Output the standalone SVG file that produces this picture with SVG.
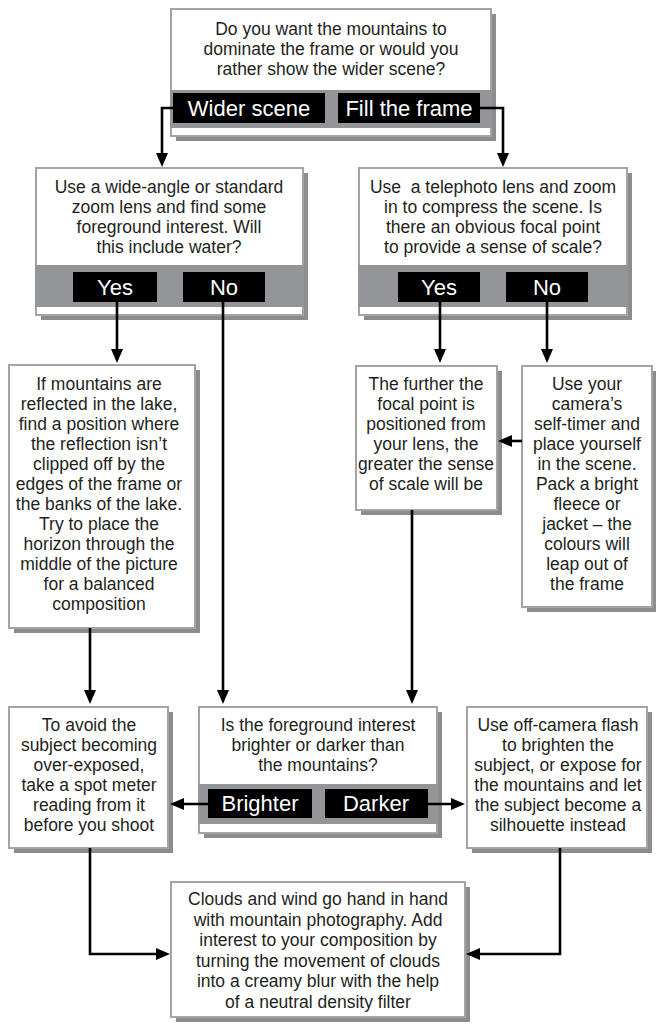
<svg xmlns="http://www.w3.org/2000/svg" width="656" height="1025" viewBox="0 0 656 1025">
  <defs>
    <style>
      .shadow { fill: #8c8c8c; }
      .box { fill: #ffffff; stroke: #a4a4a4; stroke-width: 2; }
      .band { fill: #939598; }
      .btn { fill: #000000; }
      .t { font-family: "Liberation Sans", Arial, sans-serif; font-size: 17.5px; fill: #231f20; text-anchor: middle; }
      .bt { font-family: "Liberation Sans", Arial, sans-serif; font-size: 22px; fill: #ffffff; text-anchor: middle; }
      .link { fill: none; stroke: #000000; stroke-width: 2.6; }
    </style>
    <marker id="arr" viewBox="0 0 14 12" refX="10" refY="6" markerWidth="14" markerHeight="12" markerUnits="userSpaceOnUse" orient="auto">
      <path d="M0,0 L14,6 L0,12 Z" fill="#000000"/>
    </marker>
  </defs>

  <!-- Start question -->
  <g id="start">
    <rect class="shadow" x="176" y="14" width="320" height="127"/>
    <rect class="box" x="171" y="9" width="320" height="127"/>
    <rect class="band" x="170" y="90" width="322" height="38"/>
    <text class="t" x="331" y="35">Do you want the mountains to</text>
    <text class="t" x="331" y="55">dominate the frame or would you</text>
    <text class="t" x="331" y="75">rather show the wider scene?</text>
    <rect class="btn" x="173" y="93" width="152" height="30"/>
    <text class="bt" x="249" y="116">Wider scene</text>
    <rect class="btn" x="338" y="93" width="142" height="30"/>
    <text class="bt" x="409" y="116">Fill the frame</text>
  </g>

  <!-- Wide-angle question -->
  <g id="wide">
    <rect class="shadow" x="41" y="173" width="267" height="147"/>
    <rect class="box" x="36" y="168" width="267" height="147"/>
    <rect class="band" x="35" y="265" width="269" height="42"/>
    <text class="t" x="169" y="193">Use a wide-angle or standard</text>
    <text class="t" x="169" y="213">zoom lens and find some</text>
    <text class="t" x="169" y="233">foreground interest. Will</text>
    <text class="t" x="169" y="253">this include water?</text>
    <rect class="btn" x="73" y="272" width="84" height="30"/>
    <text class="bt" x="115" y="295">Yes</text>
    <rect class="btn" x="183" y="272" width="82" height="30"/>
    <text class="bt" x="224" y="295">No</text>
  </g>

  <!-- Telephoto question -->
  <g id="tele">
    <rect class="shadow" x="364" y="173" width="268" height="147"/>
    <rect class="box" x="359" y="168" width="268" height="147"/>
    <rect class="band" x="358" y="265" width="270" height="42"/>
    <text class="t" x="493" y="193" style="white-space:pre">Use  a telephoto lens and zoom</text>
    <text class="t" x="493" y="213">in to compress the scene. Is</text>
    <text class="t" x="493" y="233">there an obvious focal point</text>
    <text class="t" x="493" y="253">to provide a sense of scale?</text>
    <rect class="btn" x="398" y="272" width="82" height="30"/>
    <text class="bt" x="439" y="295">Yes</text>
    <rect class="btn" x="506" y="272" width="82" height="30"/>
    <text class="bt" x="547" y="295">No</text>
  </g>

  <!-- Reflections tip -->
  <g id="reflect">
    <rect class="shadow" x="14" y="370" width="186" height="263"/>
    <rect class="box" x="9" y="365" width="186" height="263"/>
    <text class="t" x="99" y="390">If mountains are</text>
    <text class="t" x="99" y="410">reflected in the lake,</text>
    <text class="t" x="99" y="430">find a position where</text>
    <text class="t" x="99" y="450">the reflection isn’t</text>
    <text class="t" x="99" y="470">clipped off by the</text>
    <text class="t" x="99" y="490">edges of the frame or</text>
    <text class="t" x="99" y="510">the banks of the lake.</text>
    <text class="t" x="99" y="530">Try to place the</text>
    <text class="t" x="99" y="550">horizon through the</text>
    <text class="t" x="99" y="570">middle of the picture</text>
    <text class="t" x="99" y="590">for a balanced</text>
    <text class="t" x="99" y="610">composition</text>
  </g>

  <!-- Focal point tip -->
  <g id="focal">
    <rect class="shadow" x="361" y="371" width="141" height="144"/>
    <rect class="box" x="356" y="366" width="141" height="144"/>
    <text class="t" x="426" y="390">The further the</text>
    <text class="t" x="426" y="410">focal point is</text>
    <text class="t" x="426" y="430">positioned from</text>
    <text class="t" x="426" y="450">your lens, the</text>
    <text class="t" x="426" y="470">greater the sense</text>
    <text class="t" x="426" y="490">of scale will be</text>
  </g>

  <!-- Self-timer tip -->
  <g id="selftimer">
    <rect class="shadow" x="527" y="371" width="130" height="241"/>
    <rect class="box" x="522" y="366" width="130" height="241"/>
    <text class="t" x="587" y="390">Use your</text>
    <text class="t" x="587" y="410">camera’s</text>
    <text class="t" x="587" y="430">self-timer and</text>
    <text class="t" x="587" y="450">place yourself</text>
    <text class="t" x="587" y="470">in the scene.</text>
    <text class="t" x="587" y="490">Pack a bright</text>
    <text class="t" x="587" y="510">fleece or</text>
    <text class="t" x="587" y="530">jacket – the</text>
    <text class="t" x="587" y="550">colours will</text>
    <text class="t" x="587" y="570">leap out of</text>
    <text class="t" x="587" y="590">the frame</text>
  </g>

  <!-- Spot meter tip -->
  <g id="spot">
    <rect class="shadow" x="14" y="712" width="159" height="141"/>
    <rect class="box" x="9" y="707" width="159" height="141"/>
    <text class="t" x="89" y="731">To avoid the</text>
    <text class="t" x="89" y="751">subject becoming</text>
    <text class="t" x="89" y="771">over-exposed,</text>
    <text class="t" x="89" y="791">take a spot meter</text>
    <text class="t" x="89" y="811">reading from it</text>
    <text class="t" x="89" y="831">before you shoot</text>
  </g>

  <!-- Brightness question -->
  <g id="bright">
    <rect class="shadow" x="204" y="712" width="238" height="126"/>
    <rect class="box" x="199" y="707" width="238" height="126"/>
    <rect class="band" x="198" y="784" width="240" height="40"/>
    <text class="t" x="318" y="731">Is the foreground interest</text>
    <text class="t" x="318" y="751">brighter or darker than</text>
    <text class="t" x="318" y="771">the mountains?</text>
    <rect class="btn" x="208" y="789" width="104" height="29"/>
    <text class="bt" x="260" y="811">Brighter</text>
    <rect class="btn" x="325" y="789" width="103" height="29"/>
    <text class="bt" x="376" y="811">Darker</text>
  </g>

  <!-- Flash tip -->
  <g id="flash">
    <rect class="shadow" x="472" y="712" width="180" height="141"/>
    <rect class="box" x="467" y="707" width="180" height="141"/>
    <text class="t" x="558" y="731">Use off-camera flash</text>
    <text class="t" x="558" y="751">to brighten the</text>
    <text class="t" x="558" y="771">subject, or expose for</text>
    <text class="t" x="558" y="791">the mountains and let</text>
    <text class="t" x="558" y="811">the subject become a</text>
    <text class="t" x="558" y="831">silhouette instead</text>
  </g>

  <!-- Closing tip -->
  <g id="clouds">
    <rect class="shadow" x="176" y="887" width="294" height="135"/>
    <rect class="box" x="171" y="882" width="294" height="135"/>
    <text class="t" x="318" y="905">Clouds and wind go hand in hand</text>
    <text class="t" x="318" y="925.5">with mountain photography. Add</text>
    <text class="t" x="318" y="946">interest to your composition by</text>
    <text class="t" x="318" y="966.5">turning the movement of clouds</text>
    <text class="t" x="318" y="987">into a creamy blur with the help</text>
    <text class="t" x="318" y="1007.5">of a neutral density filter</text>
  </g>

  <!-- Connectors -->
  <g id="connectors">
    <polyline class="link" points="173,108 162,108 162,163" marker-end="url(#arr)"/>
    <polyline class="link" points="480,108 503,108 503,163" marker-end="url(#arr)"/>
    <line class="link" x1="117" y1="302" x2="117" y2="359" marker-end="url(#arr)"/>
    <line class="link" x1="223" y1="302" x2="223" y2="700" marker-end="url(#arr)"/>
    <line class="link" x1="440" y1="302" x2="440" y2="359" marker-end="url(#arr)"/>
    <line class="link" x1="547" y1="302" x2="547" y2="359" marker-end="url(#arr)"/>
    <line class="link" x1="522" y1="441" x2="502" y2="441" marker-end="url(#arr)"/>
    <line class="link" x1="90" y1="628" x2="90" y2="700" marker-end="url(#arr)"/>
    <line class="link" x1="412" y1="510" x2="412" y2="700" marker-end="url(#arr)"/>
    <line class="link" x1="208" y1="804" x2="174" y2="804" marker-end="url(#arr)"/>
    <line class="link" x1="428" y1="804" x2="461" y2="804" marker-end="url(#arr)"/>
    <polyline class="link" points="90,848 90,954 166,954" marker-end="url(#arr)"/>
    <polyline class="link" points="560,848 560,954 470,954" marker-end="url(#arr)"/>
  </g>
</svg>
